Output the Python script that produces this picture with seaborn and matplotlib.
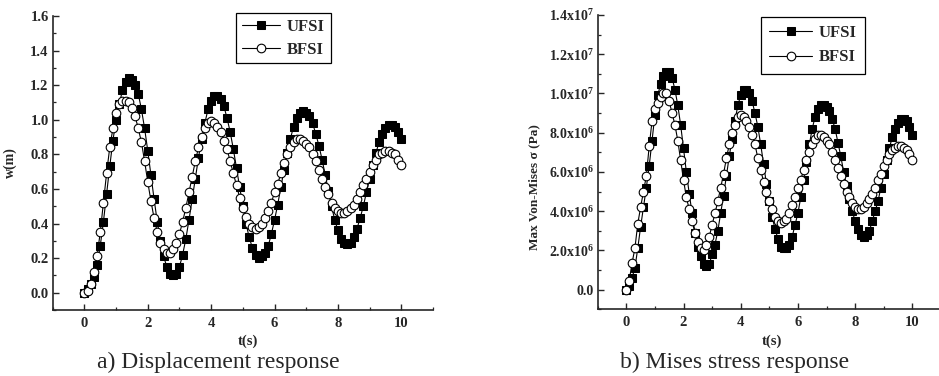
import numpy as np
import pandas as pd
import matplotlib
matplotlib.use("Agg")
import matplotlib.pyplot as plt
from matplotlib.ticker import MultipleLocator, FuncFormatter
import seaborn as sns

# ---------------- data ----------------
t = [round(0.1 * i, 1) for i in range(101)]

w_ufsi = [0.00, 0.02, 0.05, 0.09, 0.16, 0.27, 0.41, 0.57, 0.73, 0.88,
          1.00, 1.09, 1.17, 1.22, 1.24, 1.23, 1.20, 1.15, 1.06, 0.95,
          0.82, 0.68, 0.54, 0.41, 0.30, 0.21, 0.15, 0.11, 0.10, 0.11,
          0.15, 0.22, 0.31, 0.42, 0.54, 0.66, 0.78, 0.89, 0.98, 1.06,
          1.11, 1.14, 1.14, 1.12, 1.08, 1.01, 0.93, 0.83, 0.72, 0.61,
          0.50, 0.40, 0.32, 0.26, 0.22, 0.20, 0.21, 0.23, 0.27, 0.34,
          0.42, 0.51, 0.61, 0.71, 0.81, 0.89, 0.96, 1.01, 1.04, 1.05,
          1.04, 1.02, 0.98, 0.92, 0.85, 0.77, 0.68, 0.59, 0.50, 0.42,
          0.36, 0.31, 0.29, 0.28, 0.29, 0.32, 0.37, 0.43, 0.50, 0.58,
          0.66, 0.74, 0.81, 0.87, 0.92, 0.95, 0.97, 0.97, 0.96, 0.93,
          0.89]

w_bfsi = [0.00, 0.01, 0.05, 0.12, 0.21, 0.35, 0.52, 0.69, 0.84, 0.95,
          1.04, 1.09, 1.11, 1.11, 1.10, 1.07, 1.02, 0.95, 0.87, 0.76,
          0.64, 0.53, 0.43, 0.35, 0.29, 0.25, 0.23, 0.23, 0.25, 0.29,
          0.34, 0.41, 0.49, 0.58, 0.67, 0.76, 0.84, 0.90, 0.95, 0.98,
          0.99, 0.98, 0.96, 0.93, 0.88, 0.83, 0.76, 0.69, 0.62, 0.55,
          0.49, 0.44, 0.40, 0.38, 0.37, 0.38, 0.40, 0.43, 0.47, 0.52,
          0.58, 0.63, 0.69, 0.75, 0.80, 0.84, 0.87, 0.89, 0.89, 0.88,
          0.86, 0.84, 0.80, 0.76, 0.71, 0.66, 0.61, 0.57, 0.52, 0.49,
          0.47, 0.46, 0.46, 0.47, 0.49, 0.51, 0.54, 0.58, 0.62, 0.66,
          0.70, 0.74, 0.77, 0.80, 0.81, 0.82, 0.82, 0.81, 0.80, 0.77,
          0.74]

# stress in units of 1e6 Pa
s_ufsi_e6 = [0.0, 0.2, 0.6, 1.1, 2.1, 3.2, 4.2, 5.2, 6.3, 7.6,
             8.9, 9.9, 10.5, 10.9, 11.1, 11.1, 10.8, 10.2, 9.4, 8.4,
             7.2, 6.0, 4.9, 3.9, 2.9, 2.2, 1.7, 1.3, 1.2, 1.3,
             1.8, 2.3, 3.0, 3.9, 4.8, 5.8, 6.8, 7.7, 8.6, 9.4,
             9.9, 10.2, 10.2, 10.0, 9.6, 9.0, 8.3, 7.4, 6.4, 5.4,
             4.5, 3.7, 3.1, 2.6, 2.2, 2.1, 2.1, 2.3, 2.7, 3.3,
             3.9, 4.7, 5.6, 6.5, 7.4, 8.2, 8.8, 9.2, 9.4, 9.4,
             9.3, 9.1, 8.7, 8.2, 7.5, 6.8, 6.0, 5.3, 4.6, 4.0,
             3.5, 3.1, 2.8, 2.7, 2.8, 3.0, 3.5, 4.0, 4.5, 5.2,
             5.9, 6.6, 7.2, 7.8, 8.2, 8.5, 8.7, 8.7, 8.6, 8.3,
             7.9]

s_bfsi_e6 = [0.0, 0.45, 1.35, 2.1, 3.35, 4.2, 5.0, 5.8, 7.3, 8.6,
             9.2, 9.5, 9.8, 10.0, 10.0, 9.6, 9.0, 8.4, 7.6, 6.6,
             5.6, 4.7, 4.1, 3.5, 2.9, 2.45, 2.1, 2.0, 2.3, 2.7,
             3.3, 3.9, 4.5, 5.2, 5.9, 6.7, 7.4, 8.0, 8.4, 8.8,
             8.9, 8.8, 8.6, 8.3, 7.9, 7.4, 6.7, 6.1, 5.5, 5.0,
             4.5, 4.1, 3.7, 3.5, 3.4, 3.5, 3.6, 3.9, 4.3, 4.7,
             5.2, 5.6, 6.1, 6.6, 7.0, 7.4, 7.7, 7.9, 7.9, 7.8,
             7.6, 7.4, 7.0, 6.6, 6.2, 5.8, 5.4, 5.0, 4.7, 4.4,
             4.2, 4.1, 4.1, 4.2, 4.4, 4.6, 4.9, 5.2, 5.6, 5.9,
             6.3, 6.6, 6.9, 7.1, 7.2, 7.3, 7.3, 7.2, 7.1, 6.9,
             6.6]

series_names = ["UFSI", "BFSI"]
captions = ["a) Displacement response", "b) Mises stress response"]

s_ufsi = [v * 1e6 for v in s_ufsi_e6]
s_bfsi = [v * 1e6 for v in s_bfsi_e6]

# ---------------- style ----------------
sns.set_theme(style="ticks")
plt.rcParams["font.family"] = ["Liberation Serif", "DejaVu Serif"]
plt.rcParams["mathtext.default"] = "regular"
plt.rcParams["axes.linewidth"] = 1.2

fig = plt.figure(figsize=(9.39, 3.76), dpi=100)
W, H = 939.0, 376.0

ax1 = fig.add_axes([52.7 / W, 1 - 310 / H, 380.3 / W, 294 / H])
ax2 = fig.add_axes([597.7 / W, 1 - 309.3 / H, 343.2 / W, 294.3 / H])

def draw(ax, y1, y2):
    df = pd.DataFrame({"t": t, "a": y1, "b": y2})
    sns.lineplot(data=df, x="t", y="a", ax=ax, color="black", linewidth=0.8,
                 marker="s", markersize=5.6, markerfacecolor="black",
                 markeredgecolor="black", label=series_names[0], zorder=3)
    sns.lineplot(data=df, x="t", y="b", ax=ax, color="black", linewidth=0.8,
                 marker="o", markersize=6.2, markerfacecolor="white",
                 markeredgecolor="black", markeredgewidth=0.8,
                 label=series_names[1], zorder=4)
    for s in ["top", "right"]:
        ax.spines[s].set_visible(False)
    ax.set_xlim(-1, 11)
    ax.xaxis.set_major_locator(MultipleLocator(2))
    ax.xaxis.set_minor_locator(MultipleLocator(1))
    ax.tick_params(which="major", direction="in", length=4.5, width=1.0,
                   labelsize=10.5)
    ax.tick_params(which="minor", direction="in", length=2.5, width=0.9)
    ax.tick_params(axis="x", pad=5)
    ax.tick_params(axis="y", pad=3)
    ax.set_xlabel("t(s)", fontsize=10.5, fontweight="bold")

draw(ax1, w_ufsi, w_bfsi)
ax1.set_ylim(-0.1, 1.6)
ax1.yaxis.set_major_locator(MultipleLocator(0.2))
ax1.yaxis.set_minor_locator(MultipleLocator(0.1))
ax1.yaxis.set_major_formatter(FuncFormatter(lambda v, p: f"{v:.1f}"))
ax1.set_ylabel("w(m)", fontsize=10, fontweight="bold")
ax1.yaxis.set_label_coords(-0.094, 0.5)
ax1.xaxis.set_label_coords(0.514, -0.082)

draw(ax2, s_ufsi, s_bfsi)
ax2.set_ylim(-1e6, 1.4e7)
ax2.yaxis.set_major_locator(MultipleLocator(2e6))
ax2.yaxis.set_minor_locator(MultipleLocator(1e6))

def sci(v, p):
    if abs(v) < 1:
        return "0.0"
    e = int(np.floor(np.log10(abs(v))))
    m = v / 10 ** e
    return f"{m:.1f}x10$^{{{e}}}$"

ax2.yaxis.set_major_formatter(FuncFormatter(sci))
ax2.tick_params(axis="y", labelsize=10)
ax2.set_ylabel("Max Von-Mises σ (Pa)", fontsize=9.5, fontweight="bold")
ax2.yaxis.set_label_coords(-0.168, 0.415)
ax2.xaxis.set_label_coords(0.507, -0.084)

for ax in (ax1, ax2):
    for lab in ax.get_xticklabels() + ax.get_yticklabels():
        lab.set_fontweight("bold")

leg_kw = dict(loc="upper left", frameon=True, fancybox=False, framealpha=1,
              edgecolor="black", handlelength=2.3, borderpad=0.35,
              labelspacing=0.4, handletextpad=0.4, borderaxespad=0,
              prop={"family": "Liberation Serif", "weight": "bold", "size": 12})
l1 = ax1.legend(bbox_to_anchor=(0.482, 1.01), **leg_kw)
leg_kw2 = dict(leg_kw, borderpad=0.5, handlelength=2.6, labelspacing=0.5)
l2 = ax2.legend(bbox_to_anchor=(0.475, 0.994), **leg_kw2)
for l in (l1, l2):
    l.get_frame().set_linewidth(0.9)

fig.text(218 / W, 1 - 368 / H, captions[0], ha="center", va="baseline",
         fontsize=17, family="Liberation Serif")
fig.text(735 / W, 1 - 368 / H, captions[1], ha="center", va="baseline",
         fontsize=17, family="Liberation Serif")

fig.savefig("out.png", dpi=100)
